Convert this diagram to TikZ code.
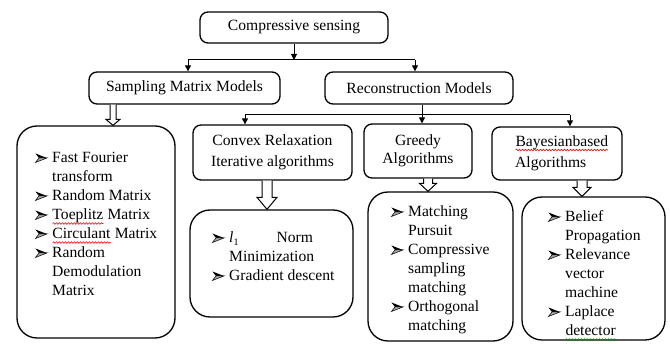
\documentclass[tikz,border=0pt]{standalone}
\usepackage{fontspec}
\setmainfont{Liberation Serif}
\usetikzlibrary{arrows.meta,calc,decorations.pathmorphing}
\newcommand\wavy[2]{\tikz[baseline=(w.base)]{\node[inner sep=0pt,outer sep=0pt,draw=none] (w) {#2};
  \draw[#1, line width=0.6pt, decorate, decoration={snake,amplitude=0.8pt,segment length=3pt}]
   ([yshift=-3.5pt]w.base west) -- ([yshift=-3.5pt]w.base east);}}
\newcommand\bul{\makebox[17pt][l]{\tikz[baseline=0pt,x=1pt,y=1pt,line width=0.5pt,line join=miter]{
  \fill[black] (0.5,9.5) -- (12,5) -- (4,5) -- cycle;
  \filldraw[fill=black!35, draw=black] (0.5,0.5) -- (12,5) -- (4,5) -- cycle;}}}
\newcommand\hollowarr[6]{\draw[hol] let \p1=(#2), \p2=(#3) in
  (#1pt-#4pt,\y1) -- (#1pt-#4pt,\y2+#6pt) -- (#1pt-#5pt,\y2+#6pt) -- (#1pt,\y2)
  -- (#1pt+#5pt,\y2+#6pt) -- (#1pt+#4pt,\y2+#6pt) -- (#1pt+#4pt,\y1);}
\begin{document}
\begin{tikzpicture}[x=1pt,y=-1pt,
  font=\fontsize{15.6}{19}\selectfont,
  box/.style={draw, line width=1.3pt, rounded corners=8pt, inner sep=0pt, align=center},
  lbox/.style={draw, line width=1.3pt, rounded corners=20pt, inner sep=0pt},
  ltext/.style={anchor=base west, inner sep=0pt},
  arr/.style={line width=1pt, -{Triangle[width=6pt,length=6pt]}},
  bus/.style={line width=1pt},
  hol/.style={line width=1pt, fill=white, line join=miter}]
\useasboundingbox (0,0) rectangle (670,344);

% header boxes
\node[box, minimum width=188, minimum height=31] (top) at (294,27.5) {Compressive sensing};
\node[box, minimum width=191, minimum height=32] (smm) at (184.5,88) {Sampling Matrix Models};
\node[box, minimum width=188, minimum height=32] (rec) at (419,88) {Reconstruction Models};
\node[box, minimum width=159, minimum height=55, font=\fontsize{15.6}{20.5}\selectfont] (cvx) at (272.5,152.5) {Convex Relaxation\\Iterative algorithms};
\node[box, minimum width=108, minimum height=54, font=\fontsize{15.6}{18.5}\selectfont] (grd) at (418,151) {Greedy\\Algorithms};
\node[box, minimum width=130, minimum height=53] (bay) at (557,153.5) {};
\node[ltext] (bayt) at (515,146.5) {\begin{tabular}[t]{@{}l@{}}
\wavy{red}{Bayesianbased}\\[2pt]
Algorithms
\end{tabular}};

% content boxes
\node[lbox, minimum width=158, minimum height=212] (lst1) at (96,232) {};
\node[lbox, minimum width=163, minimum height=107] (lst2) at (271.5,263.5) {};
\node[lbox, minimum width=145, minimum height=149] (lst3) at (440.5,266.5) {};
\node[lbox, minimum width=143, minimum height=143] (lst4) at (593.5,268.5) {};

% list texts
\node[ltext] (t1) at (35,163) {\begin{tabular}[t]{@{}l@{}l@{}}
\bul & Fast Fourier\\
 & transform\\
\bul & Random Matrix\\
\bul & \wavy{red}{Toeplitz} Matrix\\
\bul & \wavy{red}{Circulant} Matrix\\
\bul & Random\\
 & Demodulation\\
 & Matrix
\end{tabular}};
\node[ltext] (t2) at (212,243) {\begin{tabular}[t]{@{}l@{}l@{}}
\bul & \textit{l}\raisebox{-0.35ex}{\fontsize{10}{10}\selectfont 1}\hspace{38pt}Norm\\
 & Minimization\\
\bul & Gradient descent
\end{tabular}};
\node[ltext] (t3) at (391,217) {\begin{tabular}[t]{@{}l@{}l@{}}
\bul & Matching\\
 & Pursuit\\
\bul & Compressive\\
 & sampling\\
 & matching\\
\bul & Orthogonal\\
 & matching
\end{tabular}};
\node[ltext] (t4) at (548,222) {\begin{tabular}[t]{@{}l@{}l@{}}
\bul & Belief\\
 & Propagation\\
\bul & Relevance\\
 & vector\\
 & machine\\
\bul & Laplace\\
 & \wavy{green!55!black}{detector}
\end{tabular}};

% connectors level 1
\coordinate (b1l) at (188,60);
\coordinate (b1r) at (415,60);
\draw[arr] (top.south) -- (top.south |- b1l);
\draw[bus] (b1l) -- (b1r);
\draw[arr] (b1l) -- (b1l |- smm.north);
\draw[arr] (b1r) -- (b1r |- rec.north);

% connectors level 2
\coordinate (b2l) at (245,115);
\coordinate (b2m) at (422,115);
\coordinate (b2r) at (570,115);
\draw[bus] (b2l) -- (b2r);
\draw[arr] (b2m |- rec.south) -- (b2m |- grd.north);
\draw[arr] (b2l) -- (b2l |- cvx.north);
\draw[arr] (b2r) -- (b2r |- bay.north);

% hollow arrows
\hollowarr{113}{smm.south}{lst1.north}{3}{7}{6}
\hollowarr{267}{cvx.south}{lst2.north}{5}{10}{12}
\hollowarr{428}{grd.south}{lst3.north}{4.5}{8.5}{8}
\hollowarr{582}{bay.south}{lst4.north}{5}{9}{9}
\end{tikzpicture}
\end{document}
